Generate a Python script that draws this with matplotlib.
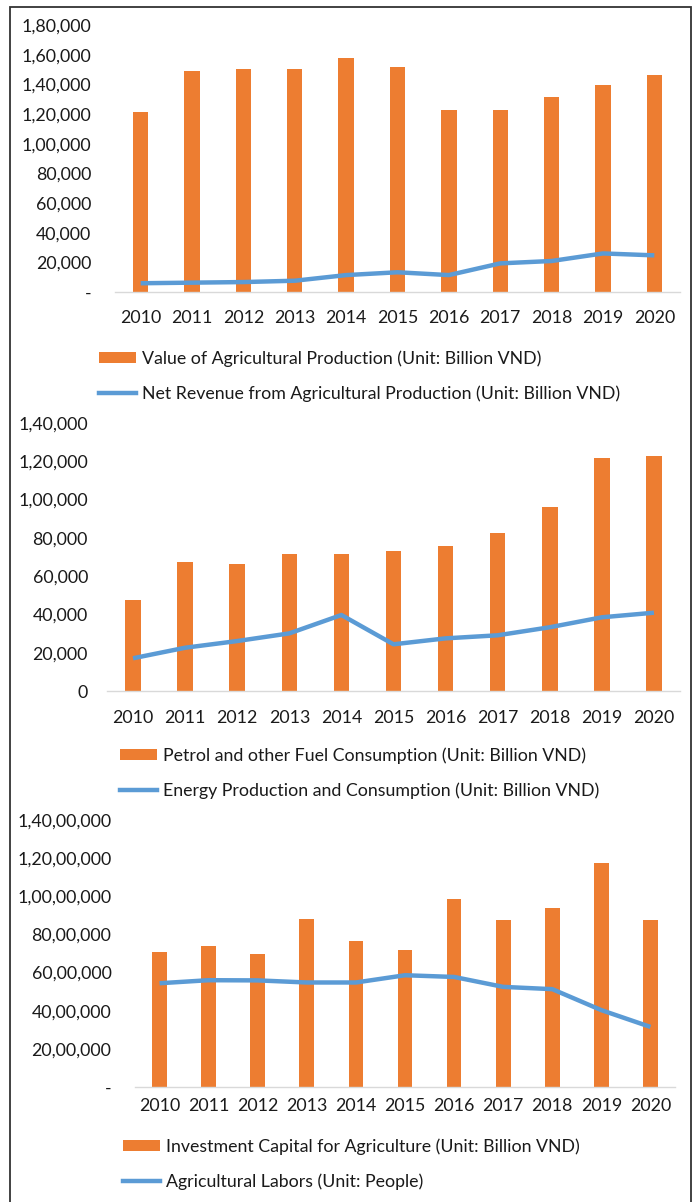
import matplotlib
matplotlib.use("Agg")
import matplotlib.pyplot as plt
from matplotlib.patches import Rectangle, Patch
from matplotlib.lines import Line2D
from matplotlib.ticker import FuncFormatter, MultipleLocator

plt.rcParams['font.family'] = ['Lato', 'DejaVu Sans']

years = [str(y) for y in range(2010, 2021)]

# Panel 1 (Billion VND)
production_value = [121500, 149300, 150600, 150000, 157800, 151700,
                    123000, 122800, 131500, 139400, 146100]
net_revenue = [5900, 6300, 6700, 7600, 11400, 13300,
               11400, 19300, 20900, 26000, 24700]

# Panel 2 (Billion VND)
fuel_consumption = [47500, 67200, 66500, 71400, 71700, 72900,
                    75600, 82700, 96200, 121500, 122700]
energy_consumption = [17100, 22600, 26100, 30100, 39700, 24400,
                      27500, 29100, 33300, 38500, 40900]

# Panel 3 (Billion VND / People)
investment_capital = [7070000, 7370000, 6950000, 8790000, 7630000, 7160000,
                      9850000, 8770000, 9400000, 11730000, 8770000]
agri_labors = [5440000, 5600000, 5590000, 5480000, 5480000, 5860000,
               5770000, 5250000, 5130000, 4030000, 3150000]

bar_labels = ["Value of Agricultural Production (Unit: Billion VND)",
              "Petrol and other Fuel Consumption (Unit: Billion VND)",
              "Investment Capital for Agriculture (Unit: Billion VND)"]
line_labels = ["Net Revenue from Agricultural Production (Unit: Billion VND)",
               "Energy Production and Consumption (Unit: Billion VND)",
               "Agricultural Labors (Unit: People)"]

BAR = "#ED7D31"
LINE = "#5B9BD5"
TXT = "#1a1a1a"
FS = 12.8

W, H = 696, 1202
fig = plt.figure(figsize=(W / 100, H / 100), dpi=100)


def indian(v, zero):
    n = int(round(v))
    if n == 0:
        return zero
    s = str(n)
    if len(s) <= 3:
        return s
    last3, rest = s[-3:], s[:-3]
    groups = []
    while len(rest) > 2:
        groups.insert(0, rest[-2:])
        rest = rest[:-2]
    if rest:
        groups.insert(0, rest)
    return ",".join(groups + [last3])


def px_axes(left, right, top, bottom):
    return fig.add_axes([left / W, 1 - bottom / H, (right - left) / W, (bottom - top) / H])


panels = [
    dict(box=(115, 680, 25, 292), ymax=180000, step=20000, zero="-",
         bars=production_value, line=net_revenue, ypad=17, xpad=13,
         leg=(99, 376)),
    dict(box=(107, 680, 423, 691), ymax=140000, step=20000, zero="0",
         bars=fuel_consumption, line=energy_consumption, ypad=13.7, xpad=13.5,
         leg=(120, 773)),
    dict(box=(135, 675, 820, 1087), ymax=14000000, step=2000000, zero="-",
         bars=investment_capital, line=agri_labors, ypad=17, xpad=8,
         leg=(123, 1164)),
]

for i, p in enumerate(panels):
    ax = px_axes(*p["box"])
    x = list(range(len(years)))
    ax.bar(x, p["bars"], width=0.3, color=BAR, zorder=2)
    ax.plot(x, p["line"], color=LINE, lw=3.2, solid_capstyle="butt", zorder=3)
    ax.set_xlim(-0.5, len(years) - 0.5)
    ax.set_ylim(0, p["ymax"])
    ax.yaxis.set_major_locator(MultipleLocator(p["step"]))
    z = p["zero"]
    ax.yaxis.set_major_formatter(FuncFormatter(lambda v, pos, z=z: indian(v, z)))
    ax.set_xticks(x)
    ax.set_xticklabels(years)
    for s in ("top", "right", "left"):
        ax.spines[s].set_visible(False)
    ax.spines["bottom"].set_color("#D9D9D9")
    ax.spines["bottom"].set_linewidth(1.0)
    ax.tick_params(axis="y", length=0, pad=p["ypad"], labelsize=FS, labelcolor=TXT)
    ax.tick_params(axis="x", length=0, pad=p["xpad"], labelsize=FS, labelcolor=TXT)

    handles = [Patch(facecolor=BAR, edgecolor="none"),
               Line2D([0], [0], color=LINE, lw=3.2)]
    lx, ly = p["leg"]
    ax.legend(handles, [bar_labels[i], line_labels[i]], loc="center left",
              bbox_to_anchor=(lx / W, 1 - ly / H), bbox_transform=fig.transFigure,
              frameon=False, fontsize=FS, borderpad=0, borderaxespad=0,
              handlelength=2.1, handleheight=0.55, handletextpad=0.3,
              labelspacing=1.05, labelcolor=TXT)

# outer frame around the three charts
fig.add_artist(Rectangle((10 / W, -0.01), (691 - 10) / W, 1 - 7 / H + 0.01,
                         transform=fig.transFigure, fill=False,
                         edgecolor="#333333", linewidth=1.3))

fig.savefig("out.png", dpi=100)
